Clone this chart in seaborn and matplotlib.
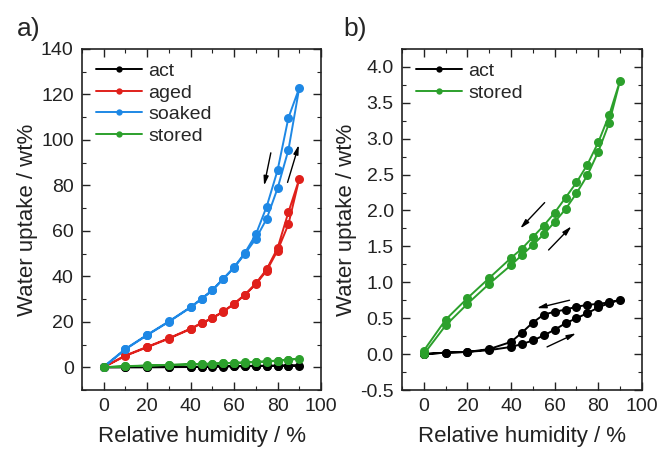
import numpy as np
import pandas as pd
import matplotlib
matplotlib.use("Agg")
import matplotlib.pyplot as plt
import seaborn as sns
from matplotlib.ticker import MultipleLocator, FormatStrFormatter

# ---------------- data ----------------
rh_ads = [0, 10, 20, 30, 40, 45, 50, 55, 60, 65, 70, 75, 80, 85, 90]
rh_des = [85, 80, 75, 70, 65, 60, 55, 50, 45, 40, 30, 20, 10, 0]

soaked_ads = [0, 7.9, 14.1, 20.0, 26.3, 29.9, 33.8, 38.7, 43.8, 49.9, 56.5, 65.3, 78.7, 95.6, 122.9]
soaked_des = [109.7, 86.6, 70.7, 58.4, 50.4, 44.0, 39.0, 34.0, 30.2, 26.5, 20.2, 14.3, 8.1, 0.3]

aged_ads = [0, 5.0, 8.8, 12.6, 16.8, 19.3, 21.5, 24.4, 27.8, 31.8, 36.5, 42.5, 51.3, 62.9, 82.9]
aged_des = [68.2, 52.4, 43.1, 36.9, 32.0, 28.0, 24.6, 21.7, 19.5, 17.0, 12.8, 9.0, 5.2, 0.2]

stored_ads = [0.0, 0.40, 0.70, 0.98, 1.24, 1.38, 1.52, 1.67, 1.84, 2.02, 2.24, 2.49, 2.82, 3.22, 3.81]
stored_des = [3.33, 2.95, 2.64, 2.39, 2.18, 1.97, 1.79, 1.63, 1.47, 1.34, 1.06, 0.78, 0.48, 0.05]

act_ads = [0.0, 0.02, 0.03, 0.055, 0.10, 0.14, 0.19, 0.26, 0.34, 0.43, 0.50, 0.57, 0.65, 0.71, 0.755]
act_des = [0.72, 0.70, 0.685, 0.66, 0.62, 0.59, 0.55, 0.44, 0.30, 0.17, 0.07, 0.03, 0.02, 0.0]

colors = {"act": "#000000", "aged": "#E0201B", "soaked": "#1E88E5", "stored": "#2CA02C"}

# arrows: (x_start, y_start, x_end, y_end)
arrows_a = [(76.9, 94.3, 73.8, 79.9), (84.6, 81.3, 89.8, 97.8)]
arrows_b = [(55.4, 2.11, 44.2, 1.75), (57.2, 1.45, 67.7, 1.78),
            (66.8, 0.75, 51.8, 0.64), (56.5, 0.10, 69.8, 0.29)]

series = {
    "act": (act_ads, act_des),
    "aged": (aged_ads, aged_des),
    "soaked": (soaked_ads, soaked_des),
    "stored": (stored_ads, stored_des),
}

def build_df(names):
    rows = []
    for n in names:
        ads, des = series[n]
        xs = rh_ads + rh_des
        ys = list(ads) + list(des)
        for i, (x, y) in enumerate(zip(xs, ys)):
            rows.append({"sample": n, "rh": x, "wu": y, "order": i})
    return pd.DataFrame(rows)

# ---------------- style ----------------
sns.set_theme(style="ticks")
plt.rcParams["font.family"] = ["Liberation Sans", "DejaVu Sans"]
plt.rcParams.update({
    "axes.linewidth": 1.2,
    "xtick.labelsize": 14, "ytick.labelsize": 14,
})

fig = plt.figure(figsize=(6.57, 4.49), dpi=100)
axa = fig.add_axes([0.1248, 0.1314, 0.3638, 0.7596])
axb = fig.add_axes([0.612, 0.1314, 0.365, 0.7596])

def draw(ax, names, marker_size):
    df = build_df(names)
    for n in names:
        sub = df[df["sample"] == n].sort_values("order")
        sns.lineplot(data=sub, x="rh", y="wu", sort=False, estimator=None,
                     color=colors[n], marker="o", markersize=marker_size,
                     markeredgewidth=0, linewidth=1.4, label=n, ax=ax)

draw(axa, ["act", "aged", "soaked", "stored"], 6.5)
draw(axb, ["act", "stored"], 6.5)

def arrows(ax, lst):
    for x0, y0, x1, y1 in lst:
        ax.annotate("", xy=(x1, y1), xytext=(x0, y0),
                    arrowprops=dict(arrowstyle="-|>,head_length=0.45,head_width=0.12",
                                    color="black", lw=1.0, shrinkA=0, shrinkB=0))

arrows(axa, arrows_a)
arrows(axb, arrows_b)

axa.set_xlim(-10, 100)
axa.set_ylim(-10, 140)
axa.xaxis.set_major_locator(MultipleLocator(20))
axa.xaxis.set_minor_locator(MultipleLocator(10))
axa.yaxis.set_major_locator(MultipleLocator(20))
axa.yaxis.set_minor_locator(MultipleLocator(10))

axb.set_xlim(-10, 100)
axb.set_ylim(-0.5, 4.25)
axb.xaxis.set_major_locator(MultipleLocator(20))
axb.xaxis.set_minor_locator(MultipleLocator(10))
axb.yaxis.set_major_locator(MultipleLocator(0.5))
axb.yaxis.set_minor_locator(MultipleLocator(0.25))
axb.yaxis.set_major_formatter(FormatStrFormatter("%.1f"))

for ax in (axa, axb):
    ax.tick_params(which="both", direction="in", top=True, right=True,
                   bottom=True, left=True, color="#222222", labelcolor="#222222")
    ax.tick_params(which="major", length=6, width=1.0, pad=6)
    ax.tick_params(which="minor", length=3, width=0.8)
    ax.set_xlabel("Relative humidity / %", fontsize=16, labelpad=7.5, color="#222222")
    ax.set_ylabel("Water uptake / wt%", fontsize=16, labelpad=2, color="#222222")
    for s in ax.spines.values():
        s.set_color("#222222")
        s.set_linewidth(1.2)
    ax.legend(loc="upper left", frameon=False, fontsize=14, handlelength=2.4,
              handletextpad=0.3, labelspacing=0.2, borderaxespad=0.3,
              markerscale=0.7)

fig.text(0.026, 0.935, "a)", fontsize=19, va="center", ha="left")
fig.text(0.522, 0.935, "b)", fontsize=19, va="center", ha="left")

fig.savefig("out.png", dpi=100)
